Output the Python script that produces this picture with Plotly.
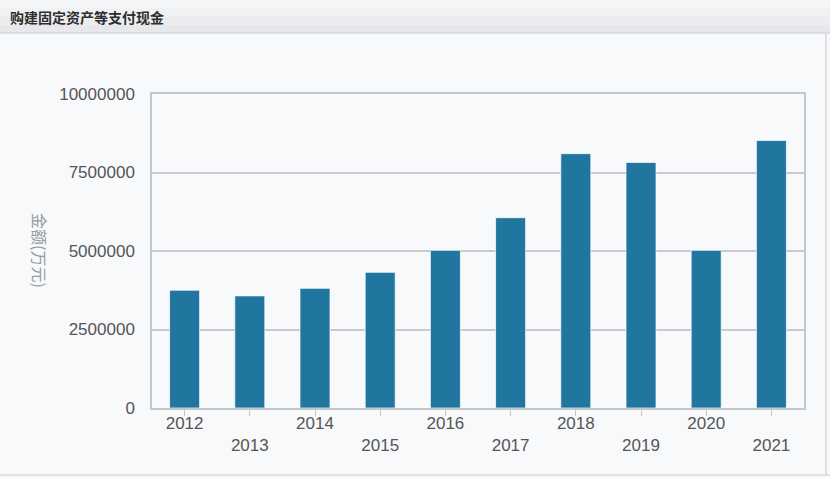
import plotly.graph_objects as go

years = ["2012", "2013", "2014", "2015", "2016", "2017", "2018", "2019", "2020", "2021"]
amounts = [3750000, 3570000, 3810000, 4320000, 5020000, 6060000, 8100000, 7820000, 5020000, 8520000]
tick_labels = [y if i % 2 == 0 else "<br>" + y for i, y in enumerate(years)]

title_text = "购建固定资产等支付现金"
y_title = "金额(万元)"

W, H = 830, 478
L, R, T, B = 152, 26, 94, 70
PW, PH = W - L - R, H - T - B

fig = go.Figure()
fig.add_trace(go.Bar(
    x=years, y=amounts,
    marker=dict(color="#21769f", line=dict(color="rgba(255,255,255,0.7)", width=1)),
    width=0.46,
    hoverinfo="x+y",
))

shapes = []
band_cols = ["#f4f5f7", "#f0f1f3", "#ebecef", "#e7e8eb"]
hh = 33
for i, c in enumerate(band_cols):
    top = T - i * hh / len(band_cols)
    bot = T - (i + 1) * hh / len(band_cols)
    shapes.append(dict(type="rect", xref="paper", yref="paper",
                       xsizemode="pixel", ysizemode="pixel", xanchor=0, yanchor=1,
                       x0=-L, x1=W - L, y0=bot, y1=top,
                       fillcolor=c, line=dict(width=0), layer="below"))
shapes.append(dict(type="line", xref="paper", yref="paper",
                   xsizemode="pixel", ysizemode="pixel", xanchor=0, yanchor=1,
                   x0=-L, x1=W - L, y0=T - hh, y1=T - hh,
                   line=dict(color="#d6d8dc", width=1.5)))
shapes.append(dict(type="line", xref="paper", yref="paper",
                   xsizemode="pixel", ysizemode="pixel", xanchor=0, yanchor=0,
                   x0=-L, x1=W - L, y0=-(475 - (H - B)), y1=-(475 - (H - B)),
                   line=dict(color="#d6d8dc", width=1.5)))
shapes.append(dict(type="line", xref="paper", yref="paper",
                   xsizemode="pixel", ysizemode="pixel", xanchor=0, yanchor=1,
                   x0=826 - L, x1=826 - L, y0=T - hh, y1=-(475 - T),
                   line=dict(color="#d6d8dc", width=1.5)))

annotations = [
    dict(text="<b>" + title_text + "</b>", xref="paper", yref="paper",
         x=(8 - L) / PW, y=1 + (T - 17) / PH,
         xanchor="left", yanchor="middle", showarrow=False,
         font=dict(family="Noto Sans CJK SC", size=14, color="#2e2e2e")),
    dict(text=y_title, xref="paper", yref="paper",
         x=(40 - L) / PW, y=(H - B - 250) / PH,
         xanchor="center", yanchor="middle", showarrow=False, textangle=90,
         font=dict(family="Noto Sans CJK SC", size=16, color="#999999")),
]

fig.update_layout(
    width=W, height=H,
    margin=dict(l=L, r=R, t=T, b=B),
    paper_bgcolor="#f8f9fb",
    plot_bgcolor="#f8f9fb",
    showlegend=False,
    bargap=0.54,
    shapes=shapes,
    annotations=annotations,
    font=dict(family="Liberation Sans", size=17, color="#555555"),
)
fig.update_xaxes(
    tickmode="array", tickvals=years, ticktext=tick_labels,
    showline=True, linecolor="#c4c7cc", linewidth=1.5, mirror=True,
    ticks="outside", ticklen=6, tickcolor="#c4c7cc",
    showgrid=False,
    ticklabelstandoff=-7,
    tickfont=dict(family="Liberation Sans", size=17, color="#555555"),
)
fig.update_yaxes(
    range=[0, 10000000], dtick=2500000, tickformat="d",
    showline=True, linecolor="#c4c7cc", linewidth=1.5, mirror=True,
    showgrid=True, gridcolor="#c8cacd", gridwidth=1.5,
    zeroline=False,
    ticklabelstandoff=12,
    tickfont=dict(family="Liberation Sans", size=17, color="#555555"),
)

fig.write_html("out.html", config={"displayModeBar": False},
               post_script="document.body.style.margin='0';document.body.style.background='#f8f9fb';")
